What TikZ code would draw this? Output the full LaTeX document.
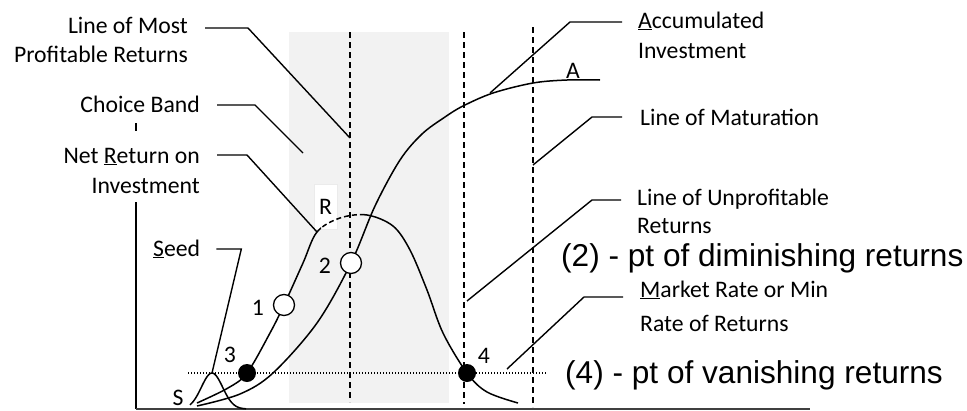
\documentclass[tikz,border=0pt]{standalone}
\usepackage{fontspec}
\setmainfont{Carlito}
\newfontfamily\arialfont{Liberation Sans}
\usetikzlibrary{positioning}

\newcommand{\netcurve}{plot[smooth, tension=0.55] coordinates {(197,403) (228,388)
  (247,373) (270,333) (284,305) (303,263) (317,232) (340,218) (367,215)
  (393,226) (410,250) (427,290) (443,333) (467,373) (487,392) (518,403)}}

\begin{document}
\begin{tikzpicture}[
  x=1pt, y=-1pt,
  font=\fontsize{23.7}{28}\selectfont,
  lbl/.style={inner sep=0pt},
  bigtxt/.style={inner sep=0pt, font=\arialfont\fontsize{31.6}{36}\selectfont},
  lead/.style={line width=1.4pt},
  curve/.style={line width=1.5pt},
  vline/.style={line width=1.6pt, dash pattern=on 6pt off 4pt},
  opendot/.style={circle, draw, fill=white, line width=1.3pt,
                  minimum size=21pt, inner sep=0pt},
  fulldot/.style={circle, fill=black, minimum size=18pt, inner sep=0pt},
  rbox/.style={draw=black!8, fill=white, minimum width=23pt,
               minimum height=45pt, inner sep=0pt}
]
  \useasboundingbox (0,0) rectangle (967,410);

  % choice band
  \fill[black!5] (289,32) rectangle (449,403);
  \node[rbox] (lR) at (325.5,206.5) {R};

  % axes
  \draw[line width=1.6pt] (136,202) -- (136,409);
  \draw[line width=1.2pt, black!75] (136,409) -- (810,409);
  \draw[line width=1.4pt] (136,123) -- (136,131);

  % vertical lines and market rate
  \draw[vline] (350,32) -- (350,402);
  \draw[vline] (464,32) -- (464,404);
  \draw[vline] (533,27) -- (533,407);
  \draw[line width=1.3pt, dash pattern=on 1.3pt off 1.7pt] (188,373) -- (547,373);

  % curves
  \begin{scope}
    \clip (0,0) rectangle (321,410) (364,0) rectangle (967,410);
    \draw[curve] \netcurve;
  \end{scope}
  \begin{scope}
    \clip (321,0) rectangle (364,410);
    \draw[curve, dash pattern=on 5pt off 3pt] \netcurve;
  \end{scope}
  \draw[curve] plot[smooth, tension=0.55] coordinates {(197,406) (240,394)
    (273,373) (317,323) (351,263) (375,206) (400,160) (422,134) (445,117)
    (463,106) (493,93) (533,83) (567,80) (600,80)};
  \draw[curve] plot[domain=190:246, samples=40]
    (\x, {409-36*exp(-((\x-212)/15)^2)});

  % texts
  \node[lbl, anchor=base east] (most1) at (188,33)  {Line of Most};
  \node[lbl, anchor=base east] (most2) at (188,62)  {Profitable Returns};
  \node[lbl, anchor=base east] (band)  at (200,112) {Choice Band};
  \node[lbl, anchor=base east] (net1)  at (200,163) {Net \underline{R}eturn on};
  \node[lbl, anchor=base east] (net2)  at (200,193) {Investment};
  \node[lbl, anchor=base west] (seed)  at (153,256) {\underline{S}eed};
  \node[lbl, anchor=base west] (acc1)  at (638,28)  {\underline{A}ccumulated};
  \node[lbl, anchor=base west] (acc2)  at (638,58)  {Investment};
  \node[lbl, anchor=base west] (mat)   at (640,125) {Line of Maturation};
  \node[lbl, anchor=base west] (unp1)  at (637,205) {Line of Unprofitable};
  \node[lbl, anchor=base west] (unp2)  at (637,233) {Returns};
  \node[lbl, anchor=base west] (mkt1)  at (640,297) {\underline{M}arket Rate or Min};
  \node[lbl, anchor=base west] (mkt2)  at (640,331) {Rate of Returns};
  \node[bigtxt, anchor=base west] (dim) at (561,266) {(2) - pt of diminishing returns};
  \node[bigtxt, anchor=base west] (van) at (565,383) {(4) - pt of vanishing returns};

  \node[lbl, anchor=base] (l1) at (258,315) {1};
  \node[lbl, anchor=base] (l2) at (325,273) {2};
  \node[lbl, anchor=base] (l3) at (230,362) {3};
  \node[lbl, anchor=base] (l4) at (484,363) {4};
  \node[lbl, anchor=base] (lS) at (178,405) {S};
  \node[lbl, anchor=base] (lA) at (573,78)  {A};

  % leader targets
  \coordinate (mostpt) at (350,138);
  \coordinate (bandpt) at (303,153);
  \coordinate (netpt)  at (317,232);
  \coordinate (seedpt) at (212,373);
  \coordinate (accpt)  at (490,93);
  \coordinate (matpt)  at (533,165);
  \coordinate (unppt)  at (467,301);
  \coordinate (mktpt)  at (507,369);

  \draw[lead] (most1.base east) ++(17,-5) -- ++(43,0) -- (mostpt);
  \draw[lead] (band.base east)  ++(17,-7) -- ++(38,0) -- (bandpt);
  \draw[lead] (net1.base east)  ++(17,-8) -- ++(30,0) -- (netpt);
  \draw[lead] (seed.base east)  ++(16,-7) -- ++(25,0) -- (seedpt);
  \draw[lead] (acc1.base west)  ++(-16,-6) -- ++(-52,0) -- (accpt);
  \draw[lead] (mat.base west)   ++(-18,-8) -- ++(-30,0) -- (matpt);
  \draw[lead] (unp1.base west)  ++(-16,-5) -- ++(-29,0) -- (unppt);
  \draw[lead] (mkt1.base west)  ++(-17,0) -- ++(-39,0) -- (mktpt);

  % points
  \node[opendot] (p1) at (284,305) {};
  \node[opendot] (p2) at (351,263) {};
  \node[fulldot] (p3) at (247,373) {};
  \node[fulldot] (p4) at (467,373) {};
\end{tikzpicture}
\end{document}
